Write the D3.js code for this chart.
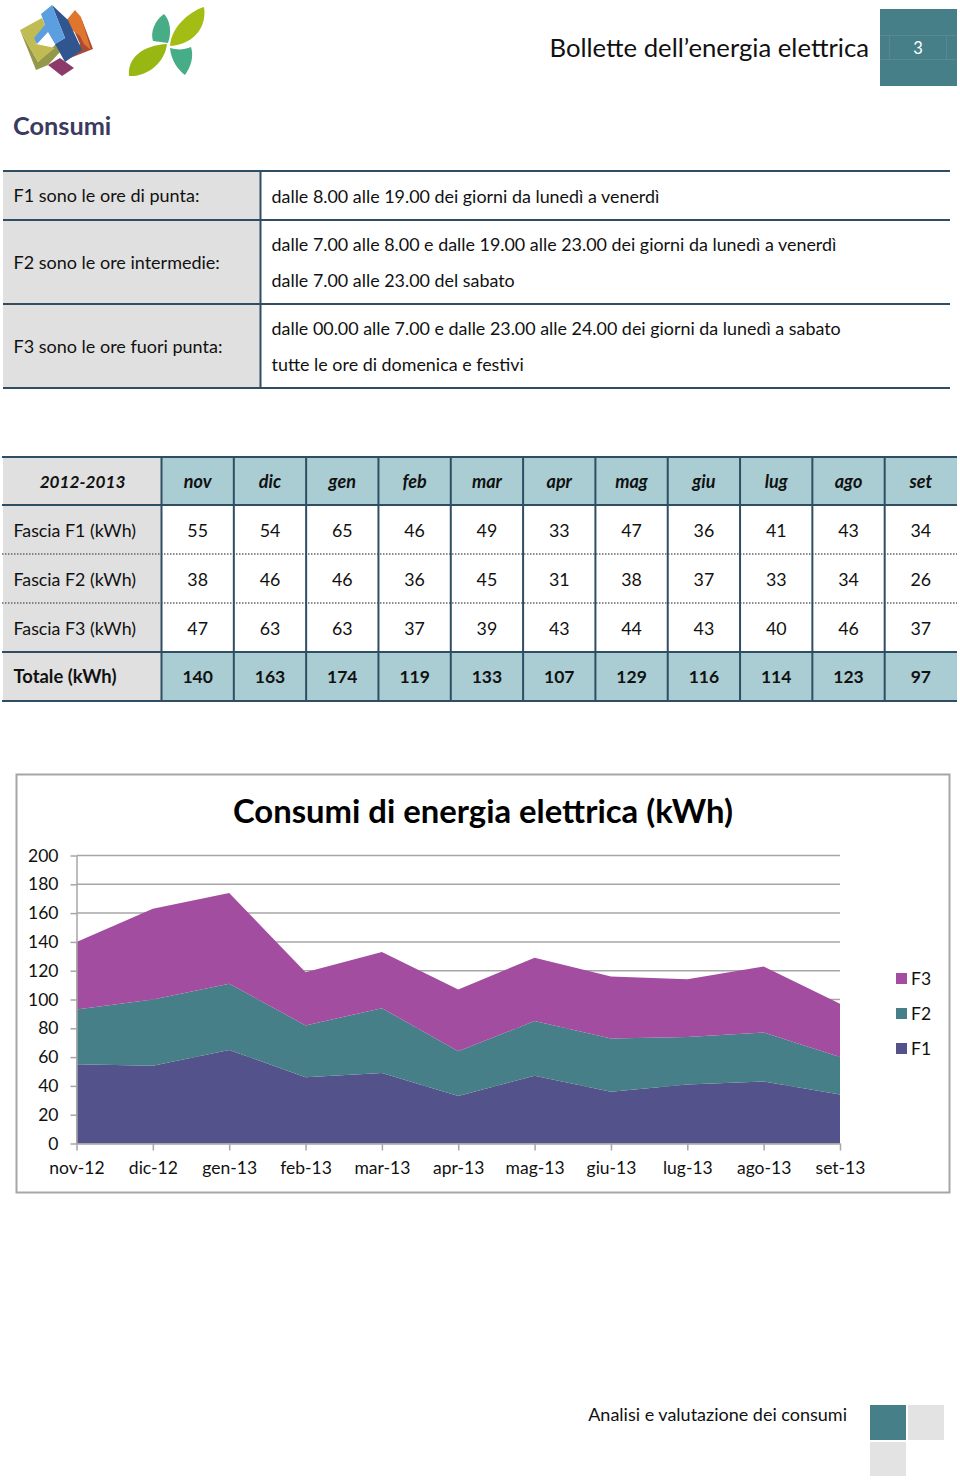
<!DOCTYPE html>
<html><head><meta charset="utf-8">
<script src="https://cdn.jsdelivr.net/npm/d3@7"></script>
<style>html,body{margin:0;padding:0;background:#fff}svg{display:block}text{font-family:Lato,"Open Sans",sans-serif;fill:#111}</style>
</head><body><svg id="c" width="960" height="1480"></svg>
<script>
const months=["nov","dic","gen","feb","mar","apr","mag","giu","lug","ago","set"];
const chartMonths=["nov-12","dic-12","gen-13","feb-13","mar-13","apr-13","mag-13","giu-13","lug-13","ago-13","set-13"];
const f1=[55,54,65,46,49,33,47,36,41,43,34];
const f2=[38,46,46,36,45,31,38,37,33,34,26];
const f3=[47,63,63,37,39,43,44,43,40,46,37];
const totals=[140,163,174,119,133,107,129,116,114,123,97];
const yTicks=[0,20,40,60,80,100,120,140,160,180,200];
const seriesNames=["F1","F2","F3"];
const seriesColors=["#54528a","#467f87","#a24d9f"];
const fasceRows=[
 ["F1 sono le ore di punta:",["dalle 8.00 alle 19.00 dei giorni da lunedì a venerdì"]],
 ["F2 sono le ore intermedie:",["dalle 7.00 alle 8.00 e dalle 19.00 alle 23.00 dei giorni da lunedì a venerdì","dalle 7.00 alle 23.00 del sabato"]],
 ["F3 sono le ore fuori punta:",["dalle 00.00 alle 7.00 e dalle 23.00 alle 24.00 dei giorni da lunedì a sabato","tutte le ore di domenica e festivi"]]
];
const svg=d3.select("#c");
const LINE="#2f4d63",GREY="#e0e0e0",TEAL="#a9cdd3",DARK="#467f87";
function txt(x,y,s,size,o={}){
 const t=svg.append("text").attr("x",x).attr("y",y).attr("font-size",size).text(s);
 if(o.anchor)t.attr("text-anchor",o.anchor);
 if(o.weight)t.attr("font-weight",o.weight);
 if(o.style)t.attr("font-style",o.style);
 if(o.fill)t.style("fill",o.fill);
 return t;
}
function rect(x,y,w,h,f){return svg.append("rect").attr("x",x).attr("y",y).attr("width",w).attr("height",h).attr("fill",f);}
function line(x1,y1,x2,y2,c,w,dash){const l=svg.append("line").attr("x1",x1).attr("y1",y1).attr("x2",x2).attr("y2",y2).attr("stroke",c).attr("stroke-width",w);if(dash)l.attr("stroke-dasharray",dash);return l;}

// logos
const logo=[
 ["#8b3a6a","48,65 60,58 74,68 62,76"],
 ["#93984a","20,30 36,70 48,65 60,52 56,44 38,62"],
 ["#c0bb52","20,30 42,18 47,30 36,44 55,48 38,62"],
 ["#a84c35","65,60 93,49 82,20 76,14 72,26 80,44"],
 ["#e0762e","65,22 75,10 81,17 91,50 84,44 80,36 72,30"],
 ["#30558f","52,5 68,20 82,50 65,62 55,44 65,38"],
 ["#5c9fe0","41,14 52,5 65,38 55,44 48,32 37,44 34,38 45,25"]
];
svg.append("g").selectAll("polygon").data(logo).join("polygon").attr("points",d=>d[1]).attr("fill",d=>d[0]);
const leaves=[
 ["#a3bd14","M170,46 C171,28 188,12 204,7 C207,25 196,44 170,46Z"],
 ["#99b712","M129,76 C127,58 143,45 167,44 C165,62 148,77 129,76Z"],
 ["#47ad87","M164,14 C155,20 150,32 153,41 L168,43 C172,32 170,20 164,14Z"],
 ["#47ad87","M170,48 C171,60 178,70 185,75 C191,67 194,56 191,47 C184,50 177,50 170,48Z"]
];
svg.append("g").selectAll("path").data(leaves).join("path").attr("d",d=>d[1]).attr("fill",d=>d[0]);

// header
txt(869,57,"Bollette dell’energia elettrica",25.7,{anchor:"end"});
rect(880,9,77,77,DARK);
line(880,35.5,957,35.5,"#568a91",1);line(880,59.5,957,59.5,"#568a91",1);
line(889.5,35,889.5,59,"#568a91",1);line(946.5,35,946.5,59,"#568a91",1);
txt(918,54,"3",16.5,{anchor:"middle",fill:"#fff"});
txt(13,135,"Consumi",25.3,{weight:700,fill:"#3b3a5f"});

// table of time bands
const bandY=[171,220,304,388];
rect(3,171,257,217,GREY);
fasceRows.forEach((r,i)=>{
 const y0=bandY[i],y1=bandY[i+1];
 txt(13.5,(y0+y1)/2+6.5,r[0],18);
 r[1].forEach((s,j)=>txt(271.5,r[1].length==1?y0+32:y0+31+j*36,s,17.9));
});
bandY.forEach(y=>line(3,y,950,y,LINE,2));
line(260.5,171,260.5,388,LINE,2);

// monthly table
const rowY=[457,505,554,603,652,701];
const colX=d3.scaleLinear().domain([0,11]).range([161.5,957]);
rect(3,457,159,244,GREY);
rect(162,457,795,48,TEAL);
rect(162,652,795,49,TEAL);
const rowsData=[["Fascia F1 (kWh)",f1],["Fascia F2 (kWh)",f2],["Fascia F3 (kWh)",f3]];
txt(82.5,488,"2012-2013",17.2,{anchor:"middle",weight:700,style:"italic"});
months.forEach((m,i)=>txt(colX(i+.5),488,m,18,{anchor:"middle",weight:700,style:"italic"}));
rowsData.forEach((r,k)=>{
 txt(13.5,rowY[k+1]+31.5,r[0],17.8);
 r[1].forEach((v,i)=>txt(colX(i+.5),rowY[k+1]+31.5,v,17.8,{anchor:"middle"}));
});
txt(13.5,683,"Totale (kWh)",18.4,{weight:700});
totals.forEach((v,i)=>txt(colX(i+.5),683,v,17.5,{anchor:"middle",weight:700}));
line(2,505,957,505,LINE,2);
line(2,554,957,554,"#666",1.5,"1.5 1.5");
line(2,603,957,603,"#666",1.5,"1.5 1.5");
line(2,652,957,652,LINE,2);
line(2,457,957,457,LINE,2);
line(2,701,957,701,LINE,2);
d3.range(0,11).forEach(i=>line(colX(i),457,colX(i),701,LINE,2));

// chart
svg.append("rect").attr("x",16.5).attr("y",774.5).attr("width",933).attr("height",418).attr("fill","#fff").attr("stroke","#a6a6a6").attr("stroke-width",2);
txt(483,823,"Consumi di energia elettrica (kWh)",32.8,{anchor:"middle",weight:700,fill:"#000"});
const x=d3.scalePoint().domain(chartMonths).range([76.5,840]);
const y=d3.scaleLinear().domain([0,200]).range([1143.5,855.5]);
const records=chartMonths.map((m,i)=>({m,F1:f1[i],F2:f2[i],F3:f3[i]}));
const stacked=d3.stack().keys(seriesNames)(records);
const area=d3.area().x(d=>x(d.data.m)).y0(d=>y(d[0])).y1(d=>y(d[1]));
svg.append("g").selectAll("line").data(yTicks.slice(1)).join("line")
 .attr("x1",76.5).attr("x2",840).attr("y1",d=>y(d)).attr("y2",d=>y(d)).attr("stroke","#a6a6a6").attr("stroke-width",1.5);
svg.append("g").selectAll("path").data(stacked).join("path").attr("d",area).attr("fill",(d,i)=>seriesColors[i]);
const gy=svg.append("g").attr("transform","translate(76.5,0)")
 .call(d3.axisLeft(y).tickValues(yTicks).tickSize(6).tickPadding(12).tickSizeOuter(0));
const gx=svg.append("g").attr("transform","translate(0,1143.5)")
 .call(d3.axisBottom(x).tickSize(7).tickPadding(11.5).tickSizeOuter(0));
[gy,gx].forEach(g=>{
 g.selectAll("path,line").attr("stroke","#a6a6a6").attr("stroke-width",1.5);
 g.selectAll("text").attr("font-size",17.5).style("font-family","Lato").style("fill","#111");
});
const legend=svg.append("g").selectAll("g").data(seriesNames.slice().reverse()).join("g")
 .attr("transform",(d,i)=>`translate(896,${973+i*35})`);
legend.append("rect").attr("width",11).attr("height",11).attr("fill",d=>seriesColors[seriesNames.indexOf(d)]);
legend.append("text").attr("x",15).attr("y",11.5).attr("font-size",17.5).text(d=>d);

// footer
txt(847,1421,"Analisi e valutazione dei consumi",18,{anchor:"end"});
rect(870,1405,36,35,DARK);rect(908,1405,36,35,"#e3e3e3");rect(870,1442,36,34,"#e3e3e3");
</script></body></html>
